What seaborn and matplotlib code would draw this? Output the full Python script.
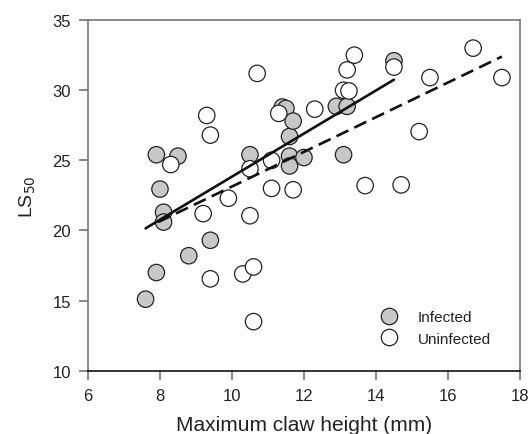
import numpy as np
import pandas as pd
import matplotlib
matplotlib.use('Agg')
import matplotlib.pyplot as plt
import seaborn as sns

# datos
inf_x = [7.6, 7.9, 7.9, 8.0, 8.1, 8.1, 8.5, 8.8, 9.4, 10.5, 11.4, 11.5, 11.6, 11.6,
         11.6, 11.7, 12.0, 12.9, 13.1, 13.2, 14.5]
inf_y = [15.1, 17.0, 25.4, 22.95, 21.3, 20.6, 25.3, 18.2, 19.3, 25.4, 28.8, 28.7, 26.7, 25.3,
         24.6, 27.8, 25.2, 28.85, 25.4, 28.85, 32.1]

uninf_x = [8.3, 9.2, 9.3, 9.4, 9.4, 9.9, 10.3, 10.5, 10.5, 10.6, 10.6, 10.7, 11.1, 11.1,
           11.3, 11.7, 12.3, 13.1, 13.2, 13.25, 13.4, 13.7, 14.5, 14.7, 15.2, 15.5, 16.7, 17.5]
uninf_y = [24.7, 21.2, 28.2, 26.8, 16.55, 22.3, 16.9, 21.05, 24.4, 17.4, 13.5, 31.2, 25.0, 23.0,
           28.35, 22.9, 28.65, 30.0, 31.45, 29.95, 32.5, 23.2, 31.65, 23.25, 27.05, 30.9, 33.0, 30.9]

# rectas de regresion (extremos)
fit_inf_x = [7.6, 14.5]
fit_inf_y = [20.15, 30.75]
fit_uninf_x = [7.95, 17.5]
fit_uninf_y = [20.6, 32.4]

df = pd.DataFrame({
    'claw': inf_x + uninf_x,
    'ls50': inf_y + uninf_y,
    'grupo': ['Infected'] * len(inf_x) + ['Uninfected'] * len(uninf_x),
})

sns.set_style('ticks')
plt.rcParams['font.family'] = ['Liberation Sans', 'DejaVu Sans']

fig = plt.figure(figsize=(5.3, 4.35), dpi=100)
ax = fig.add_axes([0.166, 0.1455, 0.815, 0.806])

sns.scatterplot(data=df, x='claw', y='ls50', hue='grupo',
                palette={'Infected': '#c8c8c8', 'Uninfected': 'white'},
                s=140, edgecolor='#222222', linewidth=0.9, ax=ax, zorder=3)

ax.plot(fit_inf_x, fit_inf_y, color='#111111', lw=1.9, zorder=4)
ax.plot(fit_uninf_x, fit_uninf_y, color='#111111', lw=1.9, ls=(0, (5, 2.5)), zorder=4)

ax.set_xlim(6, 18)
ax.set_ylim(10, 35)
ax.set_xticks(np.arange(6, 19, 2))
ax.set_yticks(np.arange(10, 36, 5))
ax.tick_params(labelsize=12, length=6.3, width=1.1, pad=6, direction='out',
               color='#666666', labelcolor='#222222')
ax.tick_params(top=False, right=False)
for s in ['top', 'right', 'left']:
    ax.spines[s].set_color('#777777')
    ax.spines[s].set_linewidth(1.2)
ax.spines['bottom'].set_color('#111111')
ax.spines['bottom'].set_linewidth(1.2)

ax.set_xlabel('Maximum claw height (mm)', fontsize=15, color='#222222', labelpad=9)
ax.set_ylabel('LS$_{50}$', fontsize=14, color='#222222', labelpad=10)

leg = ax.legend(loc='upper left', bbox_to_anchor=(0.665, 0.19), borderaxespad=0,
                frameon=False, fontsize=11, handlelength=1.0, handletextpad=1.4,
                labelspacing=0.5)
for h in leg.legend_handles:
    h.set_markeredgecolor('#222222')
for t in leg.get_texts():
    t.set_color('#222222')

fig.savefig('out.png', dpi=100)
